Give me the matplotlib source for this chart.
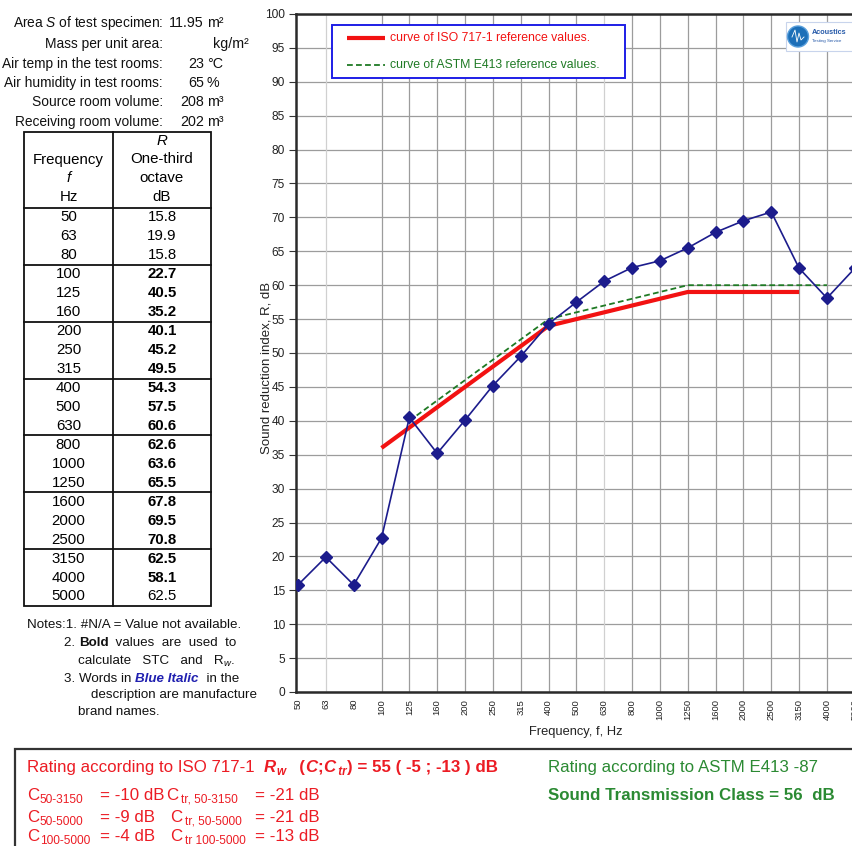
import matplotlib
matplotlib.use("Agg")
import matplotlib.pyplot as plt
from matplotlib.patches import Rectangle, Circle
import numpy as np

plt.rcParams['font.family'] = ['Liberation Sans', 'DejaVu Sans']
plt.rcParams['mathtext.fontset'] = 'custom'
plt.rcParams['mathtext.rm'] = 'Liberation Sans'
plt.rcParams['mathtext.it'] = 'Liberation Sans:italic'
plt.rcParams['mathtext.bf'] = 'Liberation Sans:bold'

# ---- measurement data -------------------------------------------------
freqs = ["50", "63", "80", "100", "125", "160", "200", "250", "315", "400",
         "500", "630", "800", "1000", "1250", "1600", "2000", "2500", "3150",
         "4000", "5000"]
r_values = [15.8, 19.9, 15.8, 22.7, 40.5, 35.2, 40.1, 45.2, 49.5, 54.3,
            57.5, 60.6, 62.6, 63.6, 65.5, 67.8, 69.5, 70.8, 62.5, 58.1, 62.5]

# shifted ISO 717-1 reference curve (100 - 3150 Hz)
iso_bands = ["100", "125", "160", "200", "250", "315", "400", "500", "630",
             "800", "1000", "1250", "1600", "2000", "2500", "3150"]
iso_ref = [36, 39, 42, 45, 48, 51, 54, 55, 56, 57, 58, 59, 59, 59, 59, 59]

# fitted ASTM E413 contour (125 - 4000 Hz)
astm_bands = ["125", "160", "200", "250", "315", "400", "500", "630", "800",
              "1000", "1250", "1600", "2000", "2500", "3150", "4000"]
astm_ref = [40, 43, 46, 49, 52, 55, 56, 57, 58, 59, 60, 60, 60, 60, 60, 60]

# bands used for the single-number ratings (shown bold in the table)
rated_bands = freqs[3:20]

# test conditions
info_labels = ["Area $\\it{S}$ of test specimen:", "Mass per unit area:",
               "Air temp in the test rooms:", "Air humidity in test rooms:",
               "Source room volume:", "Receiving room volume:"]
info_values = ["11.95", "", "23", "65", "208", "202"]
info_units = ["m\u00b2", "kg/m\u00b2", "\u00b0C", "%", "m\u00b3", "m\u00b3"]

# single-number ratings
rw, c_adapt, ctr_adapt = 55, -5, -13
stc = 56
c_terms = [("50-3150", -10, "tr, 50-3150", -21),
           ("50-5000", -9, "tr, 50-5000", -21),
           ("100-5000", -4, "tr 100-5000", -13)]

# ---- figure -----------------------------------------------------------
W, H = 853, 846
fig = plt.figure(figsize=(W / 100, H / 100), dpi=100)
fig.patch.set_facecolor("white")

px_per_band = 27.84
ax_left, ax_right, ax_top, ax_bottom = 296, 890, 14, 692
ax = fig.add_axes([ax_left / W, 1 - ax_bottom / H,
                   (ax_right - ax_left) / W, (ax_bottom - ax_top) / H])
x0 = -(298 - ax_left) / px_per_band
ax.set_xlim(x0, x0 + (ax_right - ax_left) / px_per_band)
ax.set_ylim(0, 100)

idx = {f: i for i, f in enumerate(freqs)}
xs = np.arange(len(freqs))

# vertical grid
for i, f in enumerate(freqs):
    if f in ("50", "80"):
        continue
    col = "#d0d0d0" if f in ("63", "630") else "#9c9c9c"
    ax.axvline(i, color=col, lw=0.9, zorder=1)
ax.set_yticks(np.arange(0, 101, 5))
ax.yaxis.grid(True, color="#9c9c9c", lw=0.9)
ax.set_axisbelow(True)

ax.plot([idx[f] for f in iso_bands], iso_ref, color="#f21212", lw=3.0,
        solid_capstyle="butt", zorder=3)
ax.plot([idx[f] for f in astm_bands], astm_ref, color="#1f7a24", lw=1.3,
        ls=(0, (3.2, 1.8)), zorder=3)
ax.plot(xs, r_values, color="#1c1c8c", lw=1.2, marker="D", ms=5.8,
        mfc="#1c1c8c", mec="#1c1c8c", zorder=4)

ax.set_xticks(xs)
ax.set_xticklabels(freqs, rotation=90, fontsize=6.8, color="#222222")
ax.tick_params(axis="x", length=0, pad=5)
ax.tick_params(axis="y", length=5, width=0.8, color="#333333", pad=3,
               labelsize=8.6, labelcolor="#222222")
for s in ("left", "bottom", "top"):
    ax.spines[s].set_color("#2a2a2a")
    ax.spines[s].set_linewidth(1.8)
ax.spines["right"].set_visible(False)

# ---- overlay in pixel coordinates ----------------------------------------
ov = fig.add_axes([0, 0, 1, 1], zorder=5)
ov.set_xlim(0, W)
ov.set_ylim(H, 0)
ov.axis("off")
ov.patch.set_alpha(0)
renderer = fig.canvas.get_renderer()


def run(x, y, pieces, color, size):
    """Draw consecutive text pieces on one baseline, return end x."""
    for txt, opts in pieces:
        opts = dict(opts)
        dy = opts.pop("dy", 0)
        fs = opts.pop("size", size)
        col = opts.pop("color", color)
        t = ov.text(x, y + dy, txt, ha="left", va="baseline", color=col,
                    fontsize=fs, **opts)
        x += t.get_window_extent(renderer).width
    return x


# axis titles
ov.text(267, 368, "Sound reduction index, R, dB", rotation=90, ha="center",
        va="center", fontsize=9.5, color="#222222")
ov.text(576, 732, "Frequency, f, Hz", ha="center", va="center", fontsize=9.3,
        color="#222222")

# legend box
ov.add_patch(Rectangle((332, 25), 293, 53, fc="white", ec="#1e1ee6", lw=1.4))
ov.plot([347, 385], [38, 38], color="#f21212", lw=3.0, solid_capstyle="butt")
ov.text(390, 38, "curve of ISO 717-1 reference values.", color="#f21212",
        fontsize=8.8, va="center", ha="left")
ov.plot([347, 385], [65, 65], color="#1f7a24", lw=1.3, ls=(0, (3.2, 1.8)))
ov.text(390, 65, "curve of ASTM E413 reference values.", color="#1f7a24",
        fontsize=8.8, va="center", ha="left")

# badge
ov.add_patch(Rectangle((786, 22), 80, 29, fc="white", ec="#c8d4ec", lw=0.8))
ov.add_patch(Circle((798, 36.5), 10.5, fc="#1c6fb8", ec="#5aa0dc", lw=1))
ov.plot([792, 795, 797, 799, 801, 804], [37, 30, 42, 33, 40, 37],
        color="white", lw=0.6)
ov.text(812, 33, "Acoustics", color="#2458a8", fontsize=5.2,
        fontweight="bold", va="center", ha="left")
ov.text(812, 41, "Testing Service", color="#2458a8", fontsize=3.2,
        va="center", ha="left")

# test conditions
info_y = [23, 44, 64, 83, 102, 122]
for lab, val, unit, y in zip(info_labels, info_values, info_units, info_y):
    ov.text(163, y, lab, ha="right", va="center", fontsize=9.9,
            color="#111111")
    if val:
        ov.text(204, y, val, ha="right", va="center", fontsize=10.3,
                color="#111111")
        ov.text(207, y, unit, ha="left", va="center", fontsize=10.3,
                color="#111111")
    else:
        ov.text(213, y, unit, ha="left", va="center", fontsize=10.3,
                color="#111111")

# results table
t_left, t_mid, t_right = 24, 113, 211
t_top, t_head = 132, 208
row_h = 18.95
t_bottom = t_head + row_h * len(freqs)
ov.add_patch(Rectangle((t_left, t_top), t_right - t_left, t_bottom - t_top,
                       fc="none", ec="#111111", lw=1.3))
ov.plot([t_mid, t_mid], [t_top, t_bottom], color="#111111", lw=1.3)
ov.plot([t_left, t_right], [t_head, t_head], color="#111111", lw=1.3)
for k in range(3, len(freqs), 3):
    yk = t_head + k * row_h
    ov.plot([t_left, t_right], [yk, yk], color="#111111", lw=1.3)

c1, c2 = (t_left + t_mid) / 2, (t_mid + t_right) / 2
tab_fs = 10.8
ov.text(c1, 160, "Frequency", ha="center", va="center", fontsize=tab_fs)
ov.text(c1, 178, "f", ha="center", va="center", fontsize=tab_fs,
        style="italic")
ov.text(c1, 197, "Hz", ha="center", va="center", fontsize=tab_fs)
ov.text(c2, 141, "R", ha="center", va="center", fontsize=tab_fs,
        style="italic")
ov.text(c2, 159, "One-third", ha="center", va="center", fontsize=tab_fs)
ov.text(c2, 178, "octave", ha="center", va="center", fontsize=tab_fs)
ov.text(c2, 197, "dB", ha="center", va="center", fontsize=tab_fs)
for k, (f, r) in enumerate(zip(freqs, r_values)):
    yk = t_head + (k + 0.5) * row_h
    ov.text(c1, yk, f, ha="center", va="center", fontsize=tab_fs)
    ov.text(c2, yk, f"{r:.1f}", ha="center", va="center", fontsize=tab_fs,
            fontweight="bold" if f in rated_bands else "normal")

# notes
nfs = 9.6
nc = "#111111"
ov.text(27, 628, "Notes:1. #N/A = Value not available.", fontsize=nfs,
        color=nc, va="baseline")
run(64, 646, [("2. ", {}), ("Bold", {"fontweight": "bold"}),
              ("  values  are  used  to", {})], nc, nfs)
run(78, 664, [("calculate   STC   and   R", {}),
              ("w", {"size": 6.8, "dy": 2, "style": "italic"}),
              (".", {})], nc, nfs)
run(64, 682, [("3. Words in ", {}),
              ("Blue Italic", {"fontweight": "bold", "style": "italic",
                               "color": "#2020b0"}),
              ("  in the", {})], nc, nfs)
ov.text(91, 698, "description are manufacture", fontsize=nfs, color=nc,
        va="baseline")
ov.text(78, 715, "brand names.", fontsize=nfs, color=nc, va="baseline")

# rating box
ov.plot([15, 15, 870], [850, 749, 749], color="#333333", lw=1.6,
        solid_joinstyle="miter")
red, green = "#ec1c24", "#2b8a33"
bfs = 12.2
run(27, 772, [("Rating according to ISO 717-1  ", {}),
              ("R", {"fontweight": "bold", "style": "italic"}),
              ("w", {"fontweight": "bold", "style": "italic", "size": 8.5,
                     "dy": 3}),
              ("   (", {"fontweight": "bold"}),
              ("C", {"fontweight": "bold", "style": "italic"}),
              (";", {"fontweight": "bold"}),
              ("C", {"fontweight": "bold", "style": "italic"}),
              (" tr", {"fontweight": "bold", "style": "italic", "size": 8.5,
                      "dy": 3}),
              (f") = {rw} ( {c_adapt} ; {ctr_adapt} ) dB",
               {"fontweight": "bold"})], red, bfs)
c_rows_y = [800, 822, 841]
ctr_x = [166, 170, 170]
for (sub1, v1, sub2, v2), y, cx in zip(c_terms, c_rows_y, ctr_x):
    ov.text(27, y, "C", color=red, fontsize=bfs, va="baseline")
    ov.text(40, y + 3, sub1, color=red, fontsize=8.6, va="baseline")
    ov.text(100, y, f"= {v1} dB", color=red, fontsize=bfs, va="baseline")
    ov.text(cx, y, "C", color=red, fontsize=bfs, va="baseline")
    ov.text(cx + 15, y + 3, sub2, color=red, fontsize=8.6, va="baseline")
    ov.text(255, y, f"= {v2} dB", color=red, fontsize=bfs, va="baseline")

ov.text(548, 772, "Rating according to ASTM E413 -87", color=green,
        fontsize=bfs, va="baseline")
ov.text(548, 800, f"Sound Transmission Class = {stc}  dB", color=green,
        fontsize=bfs, fontweight="bold", va="baseline")

fig.savefig("out.png", dpi=100)
